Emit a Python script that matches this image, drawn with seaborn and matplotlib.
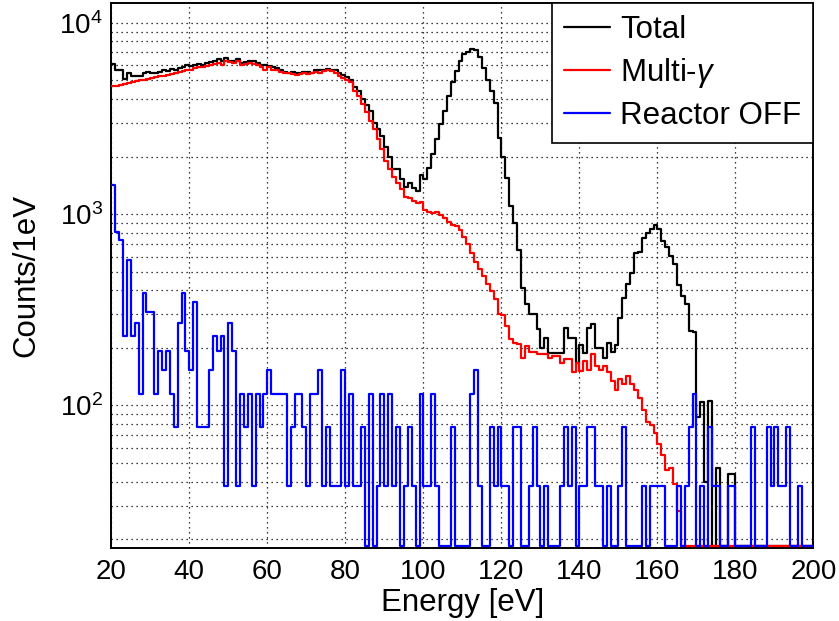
import numpy as np
import pandas as pd
import matplotlib
matplotlib.use("Agg")
import matplotlib.pyplot as plt
import seaborn as sns
from matplotlib.lines import Line2D
from matplotlib.ticker import FixedLocator, FuncFormatter, MultipleLocator

# 1 eV bins from 20 to 200 eV
bin_lo = 20
bin_hi = 200
y_min, y_max = 18, 12700

total = [
    6100, 5700, 5650, 5100, 5450, 5300, 5300, 5250, 5500, 5550,
    5500, 5450, 5550, 5650, 5600, 5750, 5700, 5800, 5900, 6000,
    5950, 6050, 6100, 6000, 6150, 6250, 6300, 6450, 6300, 6550,
    6350, 6300, 6500, 6150, 6250, 6350, 6300, 6150, 6000, 6050,
    5950, 5850, 5800, 5650, 5550, 5500, 5550, 5450, 5450, 5550,
    5550, 5500, 5650, 5650, 5700, 5750, 5700, 5650, 5450, 5350,
    5200, 5050, 4600, 4400, 3990, 3700, 3450, 3000, 2800, 2550,
    2250, 2000, 1730, 1720, 1520, 1380, 1450, 1370, 1320, 1600,
    1520, 1750, 2060, 2470, 2960, 3470, 4160, 4890, 5580, 6350,
    6880, 7080, 7300, 7250, 6600, 5800, 5000, 4400, 3800, 2500,
    2000, 1550, 1100, 897, 650, 413, 338, 300, 300, 250,
    200, 226, 189, 189, 189, 189, 255, 226, 226, 167,
    208, 189, 255, 266, 200, 200, 178, 213, 190, 206,
    288, 366, 430, 495, 630, 635, 755, 800, 835, 875,
    835, 720, 670, 605, 548, 425, 374, 340, 245, 242,
    87, 104, 40, 105, 0, 47, 0, 0, 44, 44,
    0, 0, 0, 0, 0, 0, 0, 0, 0, 0,
    0, 0, 0, 0, 0, 0, 0, 0, 0, 0,
]

multi_gamma = [
    4650, 4700, 4750, 4800, 4850, 4900, 4950, 5000, 5000, 5100,
    5150, 5200, 5250, 5300, 5350, 5400, 5450, 5550, 5600, 5650,
    5700, 5800, 5850, 5900, 5950, 6050, 6100, 6200, 6050, 6300,
    6250, 6150, 6300, 6000, 6100, 6200, 6100, 6000, 5900, 5700,
    5850, 5700, 5650, 5550, 5500, 5450, 5400, 5350, 5400, 5450,
    5400, 5450, 5550, 5500, 5600, 5650, 5600, 5500, 5250, 5130,
    5040, 4890, 4420, 4160, 3760, 3410, 3080, 2790, 2470, 2190,
    1900, 1720, 1560, 1460, 1350, 1230, 1210, 1170, 1150, 1160,
    1050, 1030, 1020, 1025, 995, 960, 905, 875, 870, 825,
    760, 700, 630, 560, 515, 475, 430, 395, 360, 300,
    296, 260, 222, 213, 210, 178, 204, 191, 191, 185,
    185, 185, 178, 181, 181, 167, 175, 175, 149, 167,
    151, 171, 154, 185, 160, 154, 160, 149, 134, 121,
    137, 129, 142, 129, 120, 110, 95, 82, 79, 72,
    63, 55, 46, 47, 39, 28, 0, 0, 0, 0,
    0, 0, 0, 0, 0, 0, 0, 0, 0, 0,
    0, 0, 0, 0, 0, 0, 0, 0, 0, 0,
    0, 0, 0, 0, 0, 0, 0, 0, 0, 0,
]

reactor_off = [
    1424, 808, 732, 231, 578, 231, 270, 115, 385, 308,
    308, 115, 192, 154, 192, 115, 77, 270, 385, 192,
    154, 346, 77, 77, 77, 154, 231, 192, 231, 38,
    270, 192, 38, 115, 77, 115, 38, 115, 77, 115,
    154, 115, 115, 115, 115, 38, 77, 115, 115, 77,
    38, 115, 115, 154, 38, 77, 38, 38, 38, 154,
    38, 115, 38, 38, 77, 0, 115, 0, 38, 115,
    38, 115, 38, 77, 0, 38, 77, 38, 0, 115,
    38, 38, 115, 38, 0, 0, 0, 77, 0, 0,
    0, 0, 115, 154, 38, 0, 0, 77, 38, 77,
    38, 38, 0, 77, 77, 0, 0, 38, 77, 38,
    0, 38, 0, 0, 0, 38, 77, 38, 77, 0,
    38, 38, 77, 77, 38, 38, 0, 38, 0, 0,
    38, 77, 0, 0, 0, 0, 38, 0, 38, 38,
    38, 38, 0, 0, 0, 38, 0, 38, 77, 115,
    0, 38, 0, 77, 38, 38, 0, 0, 38, 38,
    0, 0, 0, 0, 77, 0, 0, 0, 77, 38,
    77, 38, 38, 77, 0, 0, 38, 0, 0, 0,
]

series = [
    ("Total", total, "black"),
    (r"Multi-$\gamma$", multi_gamma, "red"),
    ("Reactor OFF", reactor_off, "blue"),
]

sns.set_style("white")
plt.rcParams["font.family"] = ["Liberation Sans", "DejaVu Sans"]
plt.rcParams["mathtext.fontset"] = "custom"
plt.rcParams["mathtext.rm"] = "Liberation Sans"
plt.rcParams["mathtext.it"] = "Liberation Sans:italic"
plt.rcParams["text.color"] = "black"
plt.rcParams["axes.labelcolor"] = "black"

fig = plt.figure(figsize=(8.39, 6.21), dpi=100)
ax = fig.add_axes([0.1327, 0.1176, 0.8369, 0.8776])

centers = np.arange(bin_lo, bin_hi) + 0.5
# empty bins sit on the frame bottom, as ROOT draws them on a log axis
floor = y_min * 1.03

for label, vals, color in series:
    df = pd.DataFrame({"energy": centers,
                       "counts": np.clip(np.asarray(vals, dtype=float), floor, None)})
    sns.histplot(
        data=df,
        x="energy",
        weights="counts",
        binwidth=1,
        binrange=(bin_lo, bin_hi),
        element="step",
        fill=False,
        color=color,
        linewidth=1.6,
        ax=ax,
    )

for ln in ax.lines:
    ln.set_zorder(3)

ax.set_yscale("log")
ax.set_xlim(bin_lo, bin_hi)
ax.set_ylim(y_min, y_max)

# ROOT-like ticks and grid
ax.xaxis.set_major_locator(MultipleLocator(20))
ax.xaxis.set_minor_locator(MultipleLocator(5))
ax.yaxis.set_major_locator(FixedLocator([1e2, 1e3, 1e4]))
minor_y = [m * 10.0 ** d for d in (1, 2, 3, 4) for m in range(2, 10)]
ax.yaxis.set_minor_locator(FixedLocator(minor_y))
ax.yaxis.set_major_formatter(FuncFormatter(lambda v, p: r"$10^{%d}$" % round(np.log10(v))))
ax.yaxis.set_minor_formatter(FuncFormatter(lambda v, p: ""))

ax.tick_params(axis="both", which="both", direction="in", labelsize=20, colors="black")
ax.tick_params(axis="x", which="major", length=20, width=1.2, pad=8)
ax.tick_params(axis="x", which="minor", length=10, width=1.2)
ax.tick_params(axis="y", which="major", length=29, width=1.2, pad=6)
ax.tick_params(axis="y", which="minor", length=15, width=1.2)

ax.grid(True, which="major", axis="x", color="black", linestyle=(0, (1, 3)), linewidth=0.9)
ax.grid(True, which="both", axis="y", color="black", linestyle=(0, (1, 3)), linewidth=0.9)
ax.set_axisbelow(True)

for sp in ax.spines.values():
    sp.set_color("black")
    sp.set_linewidth(1.4)

ax.set_xlabel("Energy [eV]", fontsize=22.5, labelpad=2)
ax.set_ylabel("Counts/1eV", fontsize=22.5, labelpad=13)

handles = [Line2D([], [], color=c, linewidth=1.6) for _, _, c in series]
leg = ax.legend(
    handles,
    [s[0] for s in series],
    loc="upper right",
    bbox_to_anchor=(1.0, 1.0),
    borderaxespad=0,
    fontsize=22.5,
    frameon=True,
    fancybox=False,
    framealpha=1,
    edgecolor="black",
    handlelength=1.5,
    handletextpad=0.32,
    labelspacing=0.35,
    borderpad=0.38,
)
leg.get_frame().set_linewidth(1.2)
leg.set_zorder(5)

fig.savefig("out.png", dpi=100)
